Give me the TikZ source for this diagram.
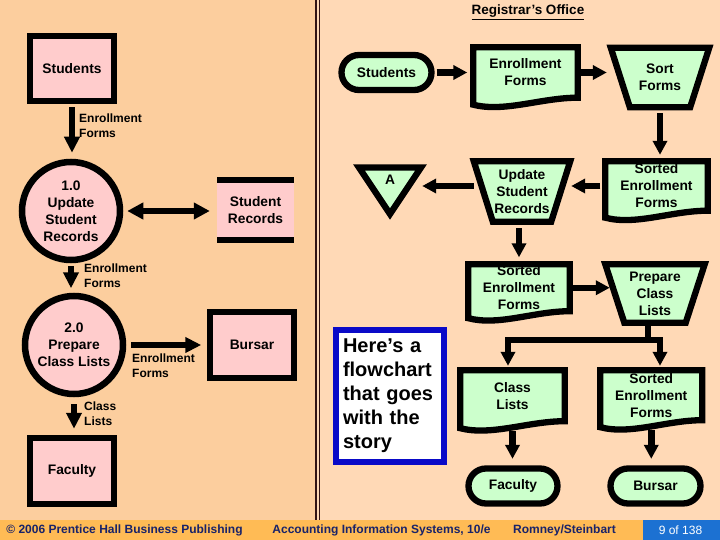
\documentclass[tikz,border=0pt]{standalone}
\usepackage{fontspec}
\setmainfont{Liberation Sans}
\usetikzlibrary{arrows.meta,calc}
\definecolor{bgL}{RGB}{252,206,158}
\definecolor{bgR}{RGB}{255,217,182}
\definecolor{foot}{RGB}{255,187,85}
\definecolor{pgblue}{RGB}{28,113,210}
\definecolor{navy}{RGB}{25,35,105}
\definecolor{pinkf}{RGB}{255,204,204}
\definecolor{greenf}{RGB}{204,255,204}
\definecolor{callblue}{RGB}{10,10,200}
\definecolor{divider}{RGB}{50,20,20}
\pgfdeclarelayer{bg}
\pgfsetlayers{bg,main}
\tikzset{
  shapetext/.style={font=\bfseries\fontsize{13.8}{17}\selectfont, align=center, inner sep=0pt},
  lbl/.style={font=\bfseries\fontsize{12}{15}\selectfont, align=left, inner sep=0pt, anchor=west},
  entity/.style={shapetext, draw=black, line width=6.5pt, fill=pinkf, minimum width=84pt, minimum height=65pt},
  proc/.style={shapetext, circle, draw=black, line width=6.5pt, fill=pinkf, minimum size=98pt},
  term/.style={shapetext, draw=black, line width=6.3pt, fill=greenf, rounded corners=17.5pt, minimum height=35pt},
  fshape/.style={draw=black, line width=6.3pt, fill=greenf, line join=miter},
  arrL/.style={line width=6.5pt, -{Triangle[length=16pt,width=15pt]}},
  arrD/.style={line width=6.5pt, {Triangle[length=16pt,width=16pt]}-{Triangle[length=16pt,width=16pt]}},
  arrR/.style={line width=6.5pt, -{Triangle[length=14pt,width=14pt]}},
  footer/.style={font=\bfseries\fontsize{12}{14}\selectfont, text=navy, inner sep=0pt}
}
\newcommand\docshape[1]{%
  \path[fshape] (#1.north west) -- (#1.north east) -- (#1.south east)
   .. controls ($(#1.south east)!0.35!(#1.south west)$) and ($(#1.south east)!0.7!(#1.south west)+(0,15)$) .. ($(#1.south west)+(0,7)$) -- cycle;}
\newcommand\trapshape[1]{%
  \path[fshape] (#1.north west) -- (#1.north east) -- ($(#1.south east)+(-19,0)$) -- ($(#1.south west)+(19,0)$) -- cycle;}
\begin{document}
\begin{tikzpicture}[x=1pt,y=-1pt]
\useasboundingbox (0,0) rectangle (720,540);
% backgrounds
\begin{pgfonlayer}{bg}
\fill[bgL] (0,0) rectangle (316,520);
\fill[bgR] (316,0) rectangle (720,520);
\fill[foot] (0,520) rectangle (720,540);
\fill[pgblue] (643,520) rectangle (720,540);
\draw[divider, line width=1.4pt] (316,0) -- (316,520);
\draw[divider, line width=1.4pt] (319.6,0) -- (319.6,520);
\end{pgfonlayer}

% ---------------- left DFD ----------------
\node[entity] (ent1) at (72,68.5) {Students};
\node[proc] (p1) at (71,211) {1.0\\Update\\Student\\Records};
\node[shapetext, minimum width=77pt, minimum height=66pt] (srec) at (255.5,210) {Student\\Records};
\begin{pgfonlayer}{bg}
\fill[pinkf] (srec.north west) rectangle (srec.south east);
\end{pgfonlayer}
\fill[black] (srec.north west) rectangle ($(srec.north east)+(0,6)$);
\fill[black] ($(srec.south west)+(0,-6)$) rectangle (srec.south east);
\node[proc] (p2) at (74,345) {2.0\\Prepare\\Class Lists};
\node[entity, minimum height=66pt] (burs) at (252,345) {Bursar};
\node[entity, minimum height=66pt] (fac) at (72,471) {Faculty};

\draw[arrL, shorten <=3pt, shorten >=6pt] (ent1.south) -- (ent1.south |- p1.north);
\node[lbl] (lef1) at (79,125.5) {Enrollment\\Forms};
\draw[arrD, shorten <=4pt, shorten >=7pt] (p1.east) -- (p1.east -| srec.west);
\draw[arrL, shorten <=3pt, shorten >=4.5pt] (p1.south) -- (p1.south |- p2.north);
\node[lbl] (lef2) at (84,275.5) {Enrollment\\Forms};
\draw[arrL, shorten <=5pt, shorten >=5.5pt] (p2.east) -- (p2.east -| burs.west);
\node[lbl] (lef3) at (132,365.5) {Enrollment\\Forms};
\draw[arrL, shorten <=7pt, shorten >=6pt] (p2.south) -- (p2.south |- fac.north);
\node[lbl] (lcl) at (84,413.5) {Class\\Lists};

% ---------------- right flowchart ----------------
\node[font=\bfseries\fontsize{13.5}{15}\selectfont, inner sep=0pt] (title) at (528,12) {\underline{Registrar’s Office}};

\node[term, minimum width=90pt] (tstu) at (386.5,72.5) {Students};
\node[shapetext, minimum width=104pt, minimum height=50pt] (ef) at (525.5,72.5) {Enrollment\\Forms};
\node[shapetext, minimum width=98pt, minimum height=59pt] (sort) at (660,77.5) {Sort\\Forms};
\node[shapetext, minimum width=102pt, minimum height=49pt] (srt1) at (656.5,186) {Sorted\\Enrollment\\Forms};
\node[shapetext, minimum width=96pt, minimum height=60pt] (upd) at (522,191.5) {Update\\Student\\Records};
\node[shapetext, minimum width=62pt] (conA) at (390,180) {A};
\node[shapetext, minimum width=101pt, minimum height=46.5pt] (srt2) at (519,287.75) {Sorted\\Enrollment\\Forms};
\node[shapetext, minimum width=99pt, minimum height=58pt] (prep) at (655,293.5) {Prepare\\Class\\Lists};
\node[shapetext, minimum width=104pt, minimum height=50.5pt] (cls) at (512.5,395.75) {Class\\Lists};
\node[shapetext, minimum width=101.5pt, minimum height=49.5pt] (srt3) at (651.25,395.25) {Sorted\\Enrollment\\Forms};
\node[term, minimum width=89pt] (fac2) at (513,486) {Faculty};
\node[term, minimum width=90pt] (bur2) at (655.5,486) {Bursar};

\begin{pgfonlayer}{bg}
\docshape{ef}
\docshape{srt1}
\docshape{srt2}
\docshape{cls}
\docshape{srt3}
\trapshape{sort}
\trapshape{upd}
\trapshape{prep}
\path[fshape] ($(conA.center)+(-31,-12.5)$) -- ($(conA.center)+(31,-12.5)$) -- ($(conA.center)+(0,34)$) -- cycle;
\end{pgfonlayer}

\draw[arrR, shorten <=2pt, shorten >=6pt] (tstu.east) -- (ef.west);
\draw[arrR, shorten <=2.5pt, shorten >=4pt] (ef.east) -- (ef.east -| sort.west);
\draw[arrR, shorten <=6pt, shorten >=6.5pt] (sort.south) -- (sort.south |- srt1.north);
\draw[arrR, shorten <=5pt, shorten >=1pt] (srt1.west) -- (srt1.west -| upd.east);
\draw[arrR, shorten >=1pt] (upd.west |- srt1.west) -- (conA.east |- srt1.west);
\draw[arrR, shorten <=6.5pt, shorten >=7pt] (srt2.north |- upd.south) -- (srt2.north);
\draw[arrR, shorten <=3pt, shorten >=-4.5pt] (srt2.east) -- (srt2.east -| prep.west);
\coordinate (split) at (648,340);
\coordinate (jl) at (508,340);
\coordinate (jr) at (660,340);
\draw[line width=6.5pt] (prep.south -| split) -- (split);
\draw[arrR, shorten >=4.5pt] (split) -- (jl) -- (jl |- cls.north);
\draw[arrR, shorten >=4.5pt] (split) -- (jr) -- (jr |- srt3.north);
\draw[arrR, shorten <=10pt, shorten >=6.5pt] (cls.south) -- (cls.south |- fac2.north);
\draw[arrR, shorten <=10pt, shorten >=6.5pt] (srt3.south) -- (srt3.south |- bur2.north);

\node[draw=callblue, line width=6.5pt, fill=white, text width=94pt, inner xsep=7pt, inner ysep=0pt, minimum height=132pt, align=left, font=\bfseries\fontsize{20}{24}\selectfont] (call) at (390,396) {Here’s a\\flowchart\\that goes\\with the\\story};

% ---------------- footer ----------------
\node[footer] (f1) at (124.5,530) {© 2006 Prentice Hall Business Publishing};
\node[footer] (f2) at (381.5,530) {Accounting Information Systems, 10/e};
\node[footer] (f3) at (564.5,530) {Romney/Steinbart};
\node[font=\fontsize{12}{14}\selectfont, text=white, inner sep=0pt] (f4) at (680.5,530) {9 of 138};
\end{tikzpicture}
\end{document}
